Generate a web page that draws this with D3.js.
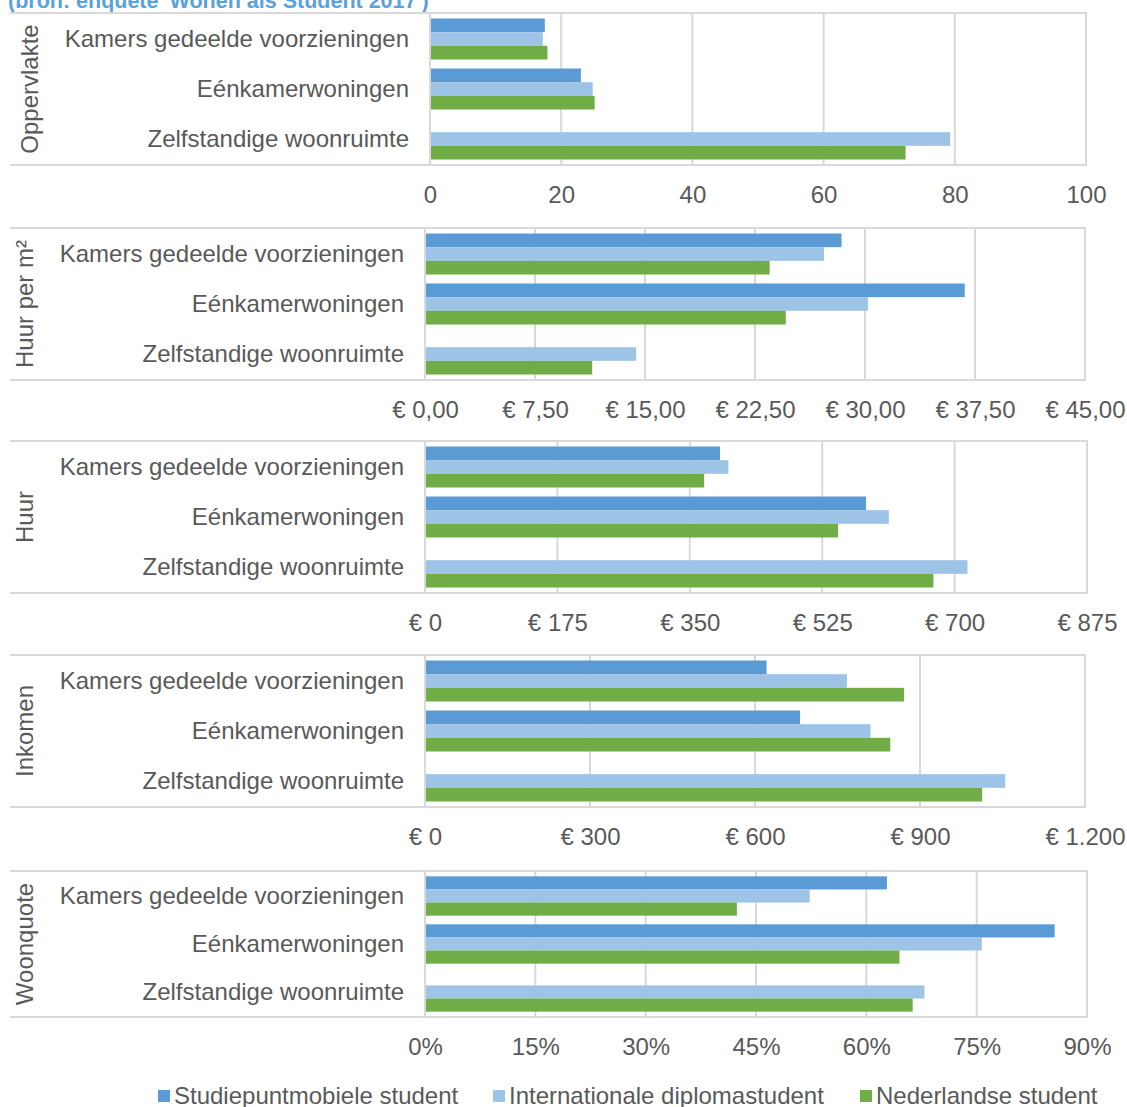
<!DOCTYPE html>
<html><head><meta charset="utf-8">
<script src="https://cdn.jsdelivr.net/npm/d3@7"></script>
<style>body{margin:0;background:#fff}svg{display:block;font-family:"Liberation Sans",Arial,sans-serif}</style>
</head><body><svg id="c" width="1127" height="1107"></svg>
<script>
const titleText = "(bron: enquête 'Wonen als Student 2017')";
const categories = ["Kamers gedeelde voorzieningen", "Eénkamerwoningen", "Zelfstandige woonruimte"];
const seriesNames = ["Studiepuntmobiele student", "Internationale diplomastudent", "Nederlandse student"];
const panelTitles = ["Oppervlakte", "Huur per m²", "Huur", "Inkomen", "Woonquote"];
// values per series: [Kamers, Eénkamer, Zelfstandig]
const oppervlakte = [[17.5, 23.0, null], [17.2, 24.8, 79.3], [17.9, 25.1, 72.5]];
const huurPerM2 = [[28.4, 36.8, null], [27.2, 30.2, 14.4], [23.5, 24.6, 11.4]];
const huur = [[390, 583, null], [401, 613, 717], [369, 546, 672]];
const inkomen = [[621, 682, null], [767, 810, 1055], [871, 846, 1013]];
const woonquote = [[62.8, 85.6, null], [52.3, 75.7, 67.9], [42.4, 64.5, 66.3]];
const ticks1 = [0, 20, 40, 60, 80, 100];
const tickLabels1 = ["0", "20", "40", "60", "80", "100"];
const ticks2 = [0, 7.5, 15, 22.5, 30, 37.5, 45];
const tickLabels2 = ["€ 0,00", "€ 7,50", "€ 15,00", "€ 22,50", "€ 30,00", "€ 37,50", "€ 45,00"];
const ticks3 = [0, 175, 350, 525, 700, 875];
const tickLabels3 = ["€ 0", "€ 175", "€ 350", "€ 525", "€ 700", "€ 875"];
const ticks4 = [0, 300, 600, 900, 1200];
const tickLabels4 = ["€ 0", "€ 300", "€ 600", "€ 900", "€ 1.200"];
const ticks5 = [0, 15, 30, 45, 60, 75, 90];
const tickLabels5 = ["0%", "15%", "30%", "45%", "60%", "75%", "90%"];

const colors = ["#5B9BD5", "#9DC3E6", "#70AD47"];
const grid = "#d9d9d9", textCol = "#595959";
const fs = 24;

const panelData = [oppervlakte, huurPerM2, huur, inkomen, woonquote];
const panelTicks = [ticks1, ticks2, ticks3, ticks4, ticks5];
const panelTickLabels = [tickLabels1, tickLabels2, tickLabels3, tickLabels4, tickLabels5];

// layout
const tops = [13, 228, 441, 655, 871];
const bottoms = [165, 380, 593, 807, 1017];
const x0s = [430, 425, 425, 425, 425];
const x1s = [1086, 1085, 1087, 1085, 1087];
const labelEnd = [409, 404, 404, 404, 404];
const titleX = [30, 25, 25, 25, 25];

const svg = d3.select("#c");

svg.append("text").attr("x", 8).attr("y", 8)
  .attr("font-size", 21.5).attr("font-weight", "bold").attr("fill", "#5aa2dc")
  .text(titleText);

panelData.forEach((data, p) => {
  const g = svg.append("g");
  const ticks = panelTicks[p];
  const x = d3.scaleLinear().domain([ticks[0], ticks[ticks.length - 1]]).range([x0s[p], x1s[p]]);
  const y = d3.scaleBand().domain(categories).range([tops[p] + 1, bottoms[p] - 1]).paddingInner(0.18).paddingOuter(0.09);
  const ys = d3.scaleBand().domain(seriesNames).range([0, y.bandwidth()]);

  // gridlines
  g.selectAll(".gl").data(ticks.slice(1, -1)).join("line")
    .attr("x1", d => x(d)).attr("x2", d => x(d))
    .attr("y1", tops[p]).attr("y2", bottoms[p])
    .attr("stroke", grid).attr("stroke-width", 2);

  // bars
  seriesNames.forEach((s, si) => {
    g.selectAll(".b" + si).data(categories.map((c, ci) => ({c, v: data[si][ci]})).filter(d => d.v != null))
      .join("rect")
      .attr("x", x(0)).attr("y", d => y(d.c) + ys(s))
      .attr("width", d => x(d.v) - x(0)).attr("height", ys.bandwidth())
      .attr("fill", colors[si]);
  });

  // frame
  g.append("line").attr("x1", 10).attr("x2", x1s[p] + 1).attr("y1", tops[p]).attr("y2", tops[p]).attr("stroke", grid).attr("stroke-width", 2);
  g.append("line").attr("x1", 10).attr("x2", x1s[p] + 1).attr("y1", bottoms[p]).attr("y2", bottoms[p]).attr("stroke", grid).attr("stroke-width", 2);
  g.append("line").attr("x1", x0s[p]).attr("x2", x0s[p]).attr("y1", tops[p]).attr("y2", bottoms[p]).attr("stroke", grid).attr("stroke-width", 2);
  g.append("line").attr("x1", x1s[p]).attr("x2", x1s[p]).attr("y1", tops[p]).attr("y2", bottoms[p]).attr("stroke", grid).attr("stroke-width", 2);

  // category labels
  g.selectAll(".cl").data(categories).join("text")
    .attr("x", labelEnd[p]).attr("y", d => y(d) + y.bandwidth() / 2)
    .attr("dy", "0.35em").attr("text-anchor", "end")
    .attr("font-size", fs).attr("fill", textCol).text(d => d);

  // panel title
  g.append("text").attr("transform", `translate(${titleX[p]},${(tops[p] + bottoms[p]) / 2}) rotate(-90)`)
    .attr("text-anchor", "middle").attr("dy", "0.35em")
    .attr("font-size", fs).attr("fill", textCol).text(panelTitles[p]);

  // x axis labels
  const axis = d3.axisBottom(x).tickValues(ticks).tickFormat((d, i) => panelTickLabels[p][i]).tickSize(0).tickPadding(0);
  const ax = g.append("g").attr("transform", `translate(0,${bottoms[p] + 30})`).call(axis);
  ax.select(".domain").remove();
  ax.selectAll("text").attr("font-size", fs).attr("fill", textCol).attr("dy", "0.35em")
    .attr("font-family", "'Liberation Sans',Arial,sans-serif");
});

// legend
const legendX = [158, 493, 860];
const lg = svg.append("g");
seriesNames.forEach((s, i) => {
  lg.append("rect").attr("x", legendX[i]).attr("y", 1090).attr("width", 12).attr("height", 12).attr("fill", colors[i]);
  lg.append("text").attr("x", legendX[i] + 16).attr("y", 1096).attr("dy", "0.35em")
    .attr("font-size", fs).attr("fill", textCol).text(s);
});
</script></body></html>
